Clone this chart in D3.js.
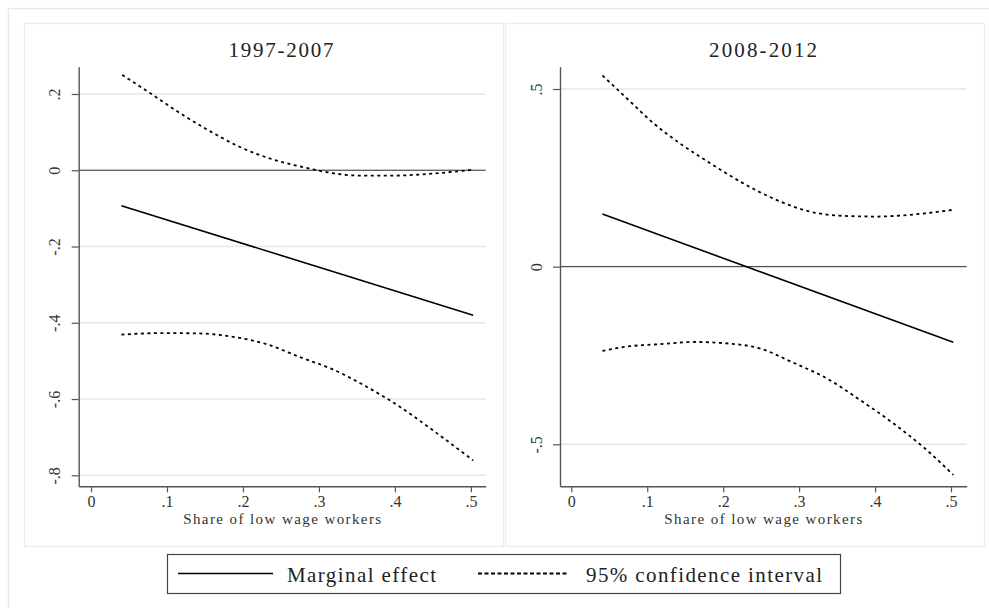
<!DOCTYPE html>
<html>
<head>
<meta charset="utf-8">
<script src="https://cdn.jsdelivr.net/npm/d3@7"></script>
<style>
  html, body { margin: 0; padding: 0; background: #fff; }
  svg { display: block; }
  svg text { font-family: "Liberation Serif", "DejaVu Serif", serif; }
</style>
</head>
<body>
<svg id="chart" width="989" height="608"></svg>
<script>
// ---------- data ----------
const panelTitles = ["1997-2007", "2008-2012"];
const xTicks = [0, 0.1, 0.2, 0.3, 0.4, 0.5];
const yTicksLeft = [-0.8, -0.6, -0.4, -0.2, 0, 0.2];
const yTicksRight = [-0.5, 0, 0.5];
const xTitle = "Share of low wage workers";
const legendLabels = ["Marginal effect", "95% confidence interval"];

// 1997-2007
const leftMeX = [0.040, 0.503];
const leftMeY = [-0.093, -0.380];
const leftUpX = [0.041, 0.078, 0.117, 0.157, 0.196, 0.240, 0.284, 0.310, 0.354, 0.398, 0.442, 0.501];
const leftUpY = [0.250, 0.202, 0.150, 0.102, 0.061, 0.028, 0.006, -0.005, -0.014, -0.014, -0.010, 0.001];
const leftLoX = [0.040, 0.095, 0.143, 0.187, 0.231, 0.275, 0.319, 0.363, 0.407, 0.450, 0.503];
const leftLoY = [-0.431, -0.427, -0.428, -0.437, -0.456, -0.490, -0.523, -0.568, -0.621, -0.682, -0.761];

// 2008-2012
const rightMeX = [0.041, 0.503];
const rightMeY = [0.148, -0.213];
const rightUpX = [0.041, 0.073, 0.108, 0.143, 0.183, 0.226, 0.270, 0.314, 0.358, 0.402, 0.446, 0.503];
const rightUpY = [0.538, 0.474, 0.404, 0.347, 0.291, 0.235, 0.188, 0.155, 0.143, 0.141, 0.146, 0.160];
const rightLoX = [0.041, 0.073, 0.117, 0.161, 0.205, 0.248, 0.292, 0.336, 0.380, 0.424, 0.468, 0.503];
const rightLoY = [-0.237, -0.225, -0.218, -0.212, -0.216, -0.230, -0.270, -0.314, -0.375, -0.441, -0.516, -0.586];

const zip = (xs, ys) => xs.map((x, i) => [x, ys[i]]);

// ---------- layout ----------
const svg = d3.select("#chart");
const SERIF = "'Liberation Serif', 'DejaVu Serif', serif";
const fmt = v => {
  if (Math.abs(v) < 1e-9) return "0";
  const s = Math.abs(v).toFixed(1).replace(/^0\./, ".");
  return (v < 0 ? "-" : "") + s;
};

// outer frame
svg.append("rect").attr("x", 8.5).attr("y", 8.5).attr("width", 990).attr("height", 610)
  .attr("fill", "none").attr("stroke", "#e4eaee").attr("stroke-width", 1.5);

const panels = [
  {
    title: panelTitles[0], box: [24, 23, 479, 523],
    xDomain: [-0.0162, 0.5195], xRange: [78.7, 485.7],
    yDomain: [-0.8, 0.2], yRange: [475.3, 94],
    plotTop: 66.7, plotBottom: 486.3, yTicks: yTicksLeft, labelX: 60,
    titleX: 281, titleW: 105,
    me: zip(leftMeX, leftMeY), up: zip(leftUpX, leftUpY), lo: zip(leftLoX, leftLoY)
  },
  {
    title: panelTitles[1], box: [505, 23, 479, 523],
    xDomain: [-0.0149, 0.5207], xRange: [560, 966.7],
    yDomain: [-0.5, 0.5], yRange: [444.3, 89],
    plotTop: 66.7, plotBottom: 486.3, yTicks: yTicksRight, labelX: 542,
    titleX: 763, titleW: 108,
    me: zip(rightMeX, rightMeY), up: zip(rightUpX, rightUpY), lo: zip(rightLoX, rightLoY)
  }
];

panels.forEach(p => {
  const g = svg.append("g");
  // panel border
  g.append("rect").attr("x", p.box[0] + 0.5).attr("y", p.box[1] + 0.5)
    .attr("width", p.box[2]).attr("height", p.box[3])
    .attr("fill", "#fff").attr("stroke", "#ececec").attr("stroke-width", 1.2);

  const x = d3.scaleLinear().domain(p.xDomain).range(p.xRange);
  const yBase = d3.scaleLinear().domain(p.yDomain).range(p.yRange);
  const y = d3.scaleLinear()
    .domain([yBase.invert(p.plotBottom), yBase.invert(p.plotTop)])
    .range([p.plotBottom, p.plotTop]);

  const x0 = p.xRange[0], x1 = p.xRange[1];

  // gridlines
  g.selectAll(".grid").data(p.yTicks).enter().append("line")
    .attr("x1", x0).attr("x2", x1)
    .attr("y1", d => y(d)).attr("y2", d => y(d))
    .attr("stroke", "#e6e6e6").attr("stroke-width", 1.6);

  // zero reference line
  g.append("line").attr("x1", x0).attr("x2", x1)
    .attr("y1", y(0)).attr("y2", y(0))
    .attr("stroke", "#3a3a3a").attr("stroke-width", 1);

  // y axis
  const yAxis = d3.axisLeft(y).tickValues(p.yTicks).tickFormat(fmt).tickSize(7).tickSizeOuter(0);
  const ya = g.append("g").attr("transform", `translate(${x0},0)`).call(yAxis)
    .attr("font-family", SERIF);
  ya.select(".domain").attr("stroke", "#555").attr("stroke-width", 1.4);
  ya.selectAll(".tick line").attr("stroke", "#555").attr("stroke-width", 1.2);
  ya.selectAll(".tick text")
    .attr("x", null).attr("dy", null)
    .attr("transform", `translate(${p.labelX - x0},0) rotate(-90)`)
    .attr("text-anchor", "middle")
    .attr("font-family", SERIF)
    .attr("font-size", 16).attr("fill", "#333");

  // x axis
  const xAxis = d3.axisBottom(x).tickValues(xTicks).tickFormat(fmt).tickSize(6).tickSizeOuter(0);
  const xa = g.append("g").attr("transform", `translate(0,${p.plotBottom})`).call(xAxis)
    .attr("font-family", SERIF);
  xa.select(".domain").attr("stroke", "#555").attr("stroke-width", 1.4);
  xa.selectAll(".tick line").attr("stroke", "#555").attr("stroke-width", 1.2);
  xa.selectAll(".tick text").attr("y", 20.5).attr("dy", null)
    .attr("font-family", SERIF)
    .attr("font-size", 16).attr("fill", "#333");

  // lines
  const line = d3.line().x(d => x(d[0])).y(d => y(d[1])).curve(d3.curveMonotoneX);
  [p.up, p.lo].forEach(s => {
    g.append("path").datum(s).attr("d", line)
      .attr("fill", "none").attr("stroke", "#000")
      .attr("stroke-width", 1.8).attr("stroke-dasharray", "3,3.5");
  });
  g.append("path").datum(p.me).attr("d", line)
    .attr("fill", "none").attr("stroke", "#000").attr("stroke-width", 1.6);

  // title
  g.append("text").attr("x", p.titleX).attr("y", 56.5)
    .attr("text-anchor", "middle").attr("font-size", 21).attr("fill", "#222")
    .attr("font-family", SERIF)
    .attr("textLength", p.titleW).attr("lengthAdjust", "spacing")
    .text(p.title);

  // x axis title
  g.append("text").attr("x", (x0 + x1) / 2).attr("y", 523.5)
    .attr("text-anchor", "middle").attr("font-size", 15).attr("fill", "#333")
    .attr("font-family", SERIF)
    .attr("textLength", 198).attr("lengthAdjust", "spacing")
    .text(xTitle);
});

// ---------- legend ----------
const lg = svg.append("g").attr("font-family", SERIF);
lg.append("rect").attr("x", 167.5).attr("y", 554.5).attr("width", 673).attr("height", 39)
  .attr("fill", "#fff").attr("stroke", "#444").attr("stroke-width", 1.2);
lg.append("line").attr("x1", 178).attr("x2", 273).attr("y1", 573.5).attr("y2", 573.5)
  .attr("stroke", "#000").attr("stroke-width", 1.6);
lg.append("text").attr("x", 287).attr("y", 581.5).attr("font-size", 21).attr("fill", "#222")
  .attr("font-family", SERIF)
  .attr("textLength", 149).attr("lengthAdjust", "spacing").text(legendLabels[0]);
lg.append("line").attr("x1", 478).attr("x2", 568).attr("y1", 573.5).attr("y2", 573.5)
  .attr("stroke", "#000").attr("stroke-width", 1.8).attr("stroke-dasharray", "4,2.5");
lg.append("text").attr("x", 586).attr("y", 581.5).attr("font-size", 21).attr("fill", "#222")
  .attr("font-family", SERIF)
  .attr("textLength", 236).attr("lengthAdjust", "spacing").text(legendLabels[1]);
</script>
</body>
</html>
